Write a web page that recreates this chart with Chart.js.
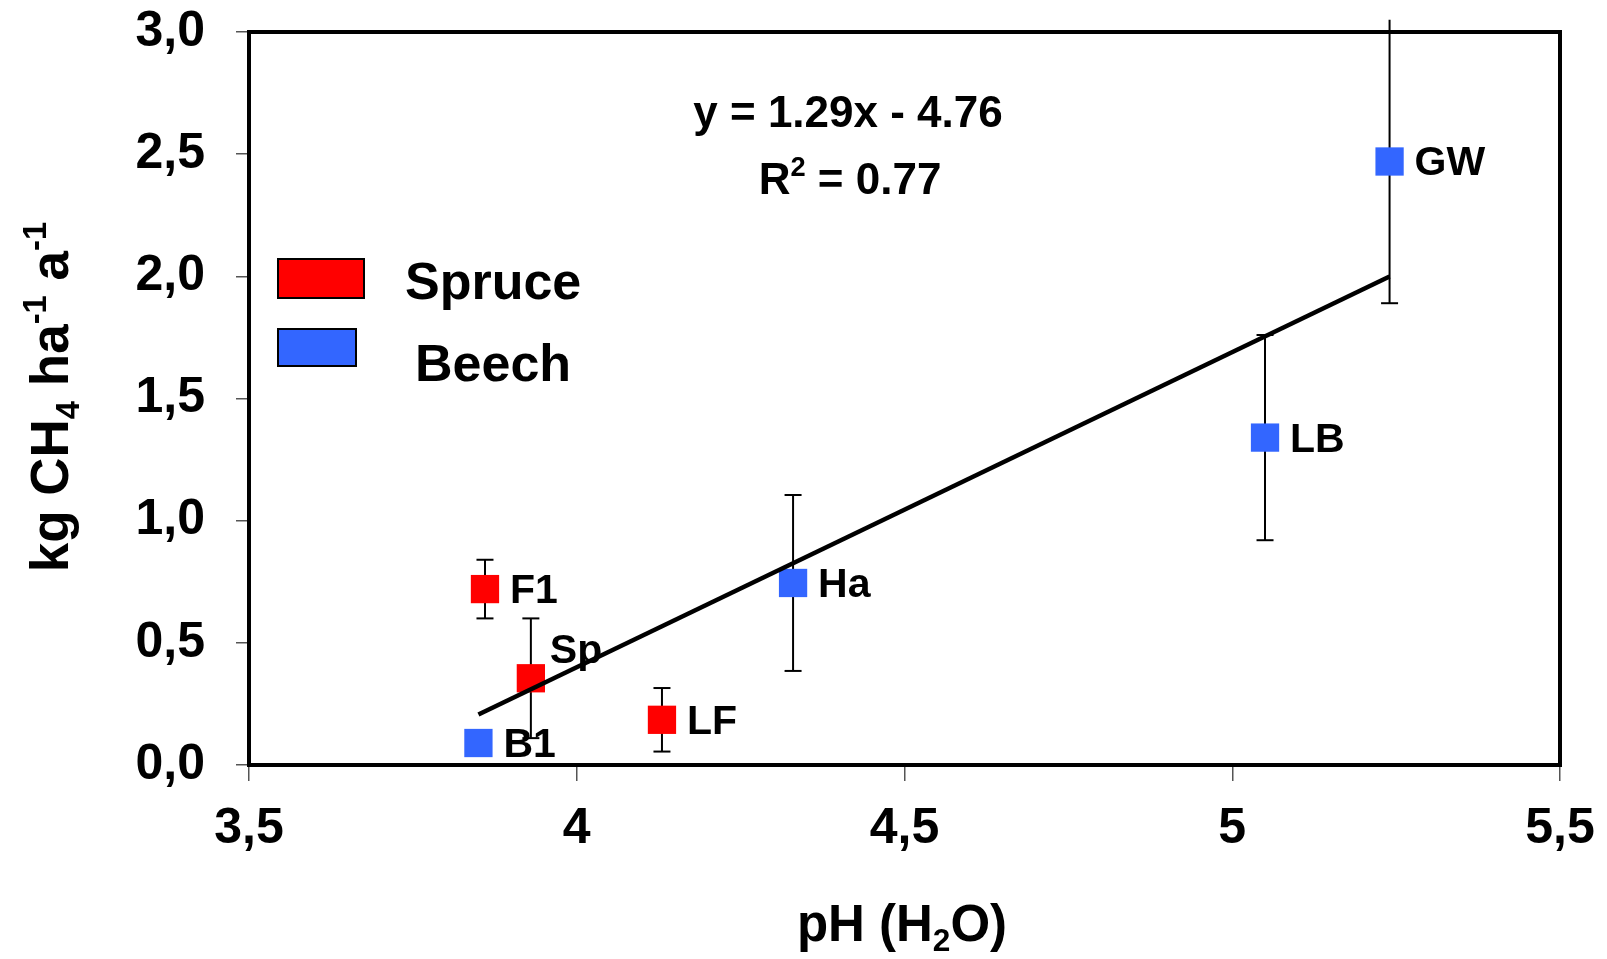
<!DOCTYPE html>
<html><head><meta charset="utf-8">
<script src="https://cdn.jsdelivr.net/npm/chart.js@4.4.1/dist/chart.umd.min.js"></script>
<style>html,body{margin:0;padding:0;background:#fff;}#wrap{width:1607px;height:959px;}</style>
</head><body><div id="wrap"><canvas id="c" width="1607" height="959"></canvas></div>
<script>
// ---- data ----
const seriesNames = ['Spruce', 'Beech'];
const sprucePH = [3.86, 3.93, 4.13];
const spruceCH4 = [0.72, 0.355, 0.185];
const spruceErr = [0.12, 0.245, 0.13];
const spruceSites = ['F1', 'Sp', 'LF'];
const beechPH = [3.85, 4.33, 5.05, 5.24];
const beechCH4 = [0.09, 0.745, 1.34, 2.47];
const beechErr = [0, 0.36, 0.42, 0.58];
const beechSites = ['B1', 'Ha', 'LB', 'GW'];
const trendSlope = 1.29, trendIntercept = -4.76, trendR2 = '0.77';
const trendRange = [3.85, 5.24];
const xTickValues = [3.5, 4, 4.5, 5, 5.5];
const xTickLabels = ['3,5', '4', '4,5', '5', '5,5'];
const yTickValues = [0, 0.5, 1, 1.5, 2, 2.5, 3];
const yTickLabels = ['0,0', '0,5', '1,0', '1,5', '2,0', '2,5', '3,0'];

// ---- styling ----
const FONT = '"Liberation Sans", Arial, Helvetica, sans-serif';
const RED = '#ff0000', BLUE = '#3366ff';
const labelNudge = { Sp: [19, -15] };

function toXY(xs, ys) { return xs.map((v, i) => ({ x: v, y: ys[i] })); }
function tickLabel(vals, labels) {
  return v => { const i = vals.findIndex(t => Math.abs(t - v) < 1e-9); return i >= 0 ? labels[i] : ''; };
}
function drawRich(ctx, segs, x, y, size, align) {
  const m = segs.map(s => {
    const fs = s[1] === 'n' ? size : size * 0.62;
    ctx.font = 'bold ' + fs + 'px ' + FONT;
    return { fs, w: ctx.measureText(s[0]).width };
  });
  const total = m.reduce((a, b) => a + b.w, 0);
  let cx = align === 'center' ? x - total / 2 : x;
  ctx.textAlign = 'left'; ctx.textBaseline = 'alphabetic';
  segs.forEach((s, i) => {
    ctx.font = 'bold ' + m[i].fs + 'px ' + FONT;
    const dy = s[1] === 'sub' ? size * 0.2 : s[1] === 'sup' ? -size * 0.42 : 0;
    ctx.fillText(s[0], cx, y + dy);
    cx += m[i].w;
  });
}

const overlay = {
  id: 'overlay',
  beforeDatasetsDraw(chart) {
    const { ctx, chartArea: a, scales: { x, y } } = chart;
    ctx.save();
    ctx.strokeStyle = '#000';
    ctx.lineWidth = 2;
    const err = (xs, ys, es) => xs.forEach((xv, i) => {
      const e = es[i]; if (!e) return;
      const px = x.getPixelForValue(xv);
      const lo = ys[i] - e, hi = ys[i] + e;
      const p1 = y.getPixelForValue(lo), p2 = y.getPixelForValue(hi);
      ctx.beginPath(); ctx.moveTo(px, p1); ctx.lineTo(px, p2); ctx.stroke();
      [[lo, p1], [hi, p2]].forEach(([v, p]) => {
        if (v <= y.max && v >= y.min) { ctx.beginPath(); ctx.moveTo(px - 8.5, p); ctx.lineTo(px + 8.5, p); ctx.stroke(); }
      });
    });
    err(sprucePH, spruceCH4, spruceErr);
    err(beechPH, beechCH4, beechErr);
    ctx.lineWidth = 4;
    ctx.strokeRect(a.left, a.top, a.right - a.left, a.bottom - a.top);
    ctx.restore();
  },
  afterDraw(chart) {
    const { ctx, scales: { x, y } } = chart;
    ctx.save();
    ctx.fillStyle = '#000';
    // point labels
    ctx.font = 'bold 41px ' + FONT;
    ctx.textAlign = 'left'; ctx.textBaseline = 'alphabetic';
    const lab = (xs, ys, names) => xs.forEach((xv, i) => {
      const n = labelNudge[names[i]] || [25, 14];
      ctx.fillText(names[i], x.getPixelForValue(xv) + n[0], y.getPixelForValue(ys[i]) + n[1]);
    });
    lab(sprucePH, spruceCH4, spruceSites);
    lab(beechPH, beechCH4, beechSites);
    // equation
    ctx.font = 'bold 44px ' + FONT;
    ctx.textAlign = 'center';
    const sign = trendIntercept < 0 ? '-' : '+';
    ctx.fillText('y = ' + trendSlope.toFixed(2) + 'x ' + sign + ' ' + Math.abs(trendIntercept).toFixed(2), 848, 127);
    drawRich(ctx, [['R', 'n'], ['2', 'sup'], [' = ' + trendR2, 'n']], 850, 194, 44, 'center');
    // legend
    ctx.lineWidth = 2; ctx.strokeStyle = '#000';
    ctx.fillStyle = RED; ctx.fillRect(278, 259, 86, 39); ctx.strokeRect(278, 259, 86, 39);
    ctx.fillStyle = BLUE; ctx.fillRect(278, 329, 78, 37); ctx.strokeRect(278, 329, 78, 37);
    ctx.fillStyle = '#000';
    ctx.font = 'bold 52px ' + FONT; ctx.textAlign = 'left';
    ctx.fillText(seriesNames[0], 405, 299);
    ctx.fillText(seriesNames[1], 415, 381);
    // axis titles
    drawRich(ctx, [['pH (H', 'n'], ['2', 'sub'], ['O)', 'n']], 902, 941, 51, 'center');
    ctx.translate(68, 397); ctx.rotate(-Math.PI / 2);
    drawRich(ctx, [['kg CH', 'n'], ['4', 'sub'], [' ha', 'n'], ['-1', 'sup'], [' a', 'n'], ['-1', 'sup']], 0, 0, 53, 'center');
    ctx.restore();
  }
};

const tickFont = { family: FONT, size: 50, weight: 'bold' };
new Chart(document.getElementById('c'), {
  type: 'scatter',
  data: {
    datasets: [
      { type: 'line', label: 'trend', order: 0,
        data: trendRange.map(v => ({ x: v, y: trendSlope * v + trendIntercept })),
        borderColor: '#000', borderWidth: 4.5, pointRadius: 0, fill: false },
      { label: seriesNames[0], order: 1, data: toXY(sprucePH, spruceCH4),
        pointStyle: 'rect', pointRadius: 20, pointHoverRadius: 20,
        backgroundColor: RED, borderColor: RED, borderWidth: 0 },
      { label: seriesNames[1], order: 2, data: toXY(beechPH, beechCH4),
        pointStyle: 'rect', pointRadius: 20, pointHoverRadius: 20,
        backgroundColor: BLUE, borderColor: BLUE, borderWidth: 0 }
    ]
  },
  options: {
    responsive: false, animation: false, devicePixelRatio: 1,
    events: [],
    layout: { padding: { top: 32, right: 47, left: 0, bottom: 0 } },
    plugins: { legend: { display: false }, tooltip: { enabled: false } },
    scales: {
      x: {
        type: 'linear', min: 3.5, max: 5.5,
        afterBuildTicks: s => { s.ticks = xTickValues.map(v => ({ value: v })); },
        afterFit: s => { s.height = 194; s.paddingLeft = 0; s.paddingRight = 0; },
        grid: { drawOnChartArea: false, drawTicks: true, tickLength: 16, color: '#555', lineWidth: 1.5 },
        border: { display: false },
        ticks: { font: tickFont, color: '#000', padding: 18, autoSkip: false, maxRotation: 0, minRotation: 0,
          callback: tickLabel(xTickValues, xTickLabels) }
      },
      y: {
        type: 'linear', min: 0, max: 3,
        afterBuildTicks: s => { s.ticks = yTickValues.map(v => ({ value: v })); },
        afterFit: s => { s.width = 249; s.paddingTop = 0; s.paddingBottom = 0; },
        grid: { drawOnChartArea: false, drawTicks: true, tickLength: 13, color: '#555', lineWidth: 1.5 },
        border: { display: false },
        ticks: { font: tickFont, color: '#000', padding: 31, autoSkip: false,
          callback: tickLabel(yTickValues, yTickLabels) }
      }
    }
  },
  plugins: [overlay]
});
</script>
</body></html>
